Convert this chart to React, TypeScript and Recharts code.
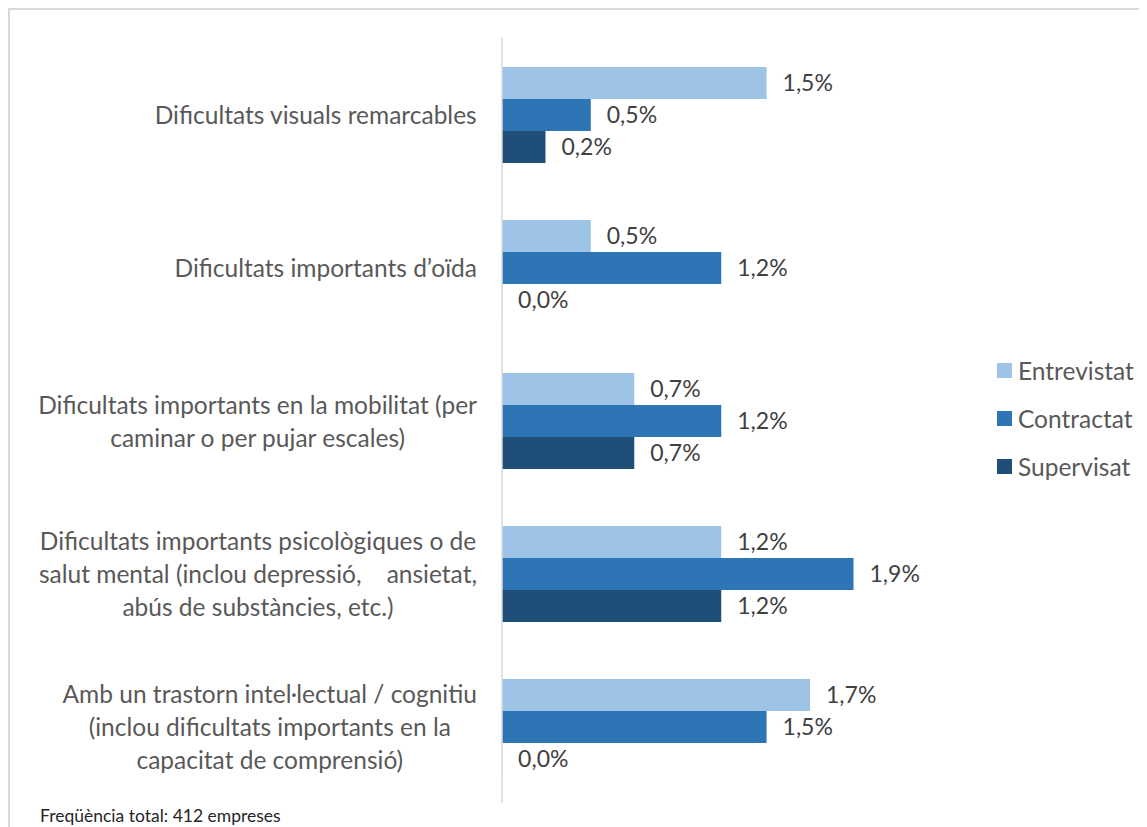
import React from 'react';
import { BarChart, Bar, XAxis, YAxis, LabelList } from 'recharts';

const categories = [
  'Dificultats visuals remarcables',
  'Dificultats importants d\u2019oïda',
  'Dificultats importants en la mobilitat (per\ncaminar o per pujar escales)',
  'Dificultats importants psicològiques o de\nsalut mental (inclou depressió,    ansietat,\nabús de substàncies, etc.)',
  'Amb un trastorn intel·lectual / cognitiu\n(inclou dificultats importants en la\ncapacitat de comprensió)',
];

const seriesNames = ['Entrevistat', 'Contractat', 'Supervisat'];
const seriesColors = ['#9dc3e6', '#2e75b6', '#1f4e79'];

const entrevistat = [1.46, 0.49, 0.73, 1.21, 1.70];
const contractat = [0.49, 1.21, 1.21, 1.94, 1.46];
const supervisat = [0.24, 0.0, 0.73, 1.21, 0.0];

const chartData = categories.map((name, i) => ({
  name,
  s0: entrevistat[i],
  s1: contractat[i],
  s2: supervisat[i],
}));

const FONT = 'Lato, "Open Sans", sans-serif';
const TEXT = '#595959';

let ctx: CanvasRenderingContext2D | null = null;
const measure = (s: string, font: string) => {
  if (!ctx) ctx = document.createElement('canvas').getContext('2d');
  if (!ctx) return s.length * 11;
  ctx.font = font;
  return ctx.measureText(s).width;
};

const CategoryTick = (props: any) => {
  const { x, y, payload } = props;
  const lines: string[] = String(payload.value).split('\n');
  const fs = 24.5;
  const widths = lines.map((l) => measure(l, `${fs}px Lato`));
  const blockW = Math.max(...widths);
  const cx = x - blockW / 2;
  const lineH = 33;
  const y0 = y - ((lines.length - 1) * lineH) / 2;
  return (
    <g>
      {lines.map((l, i) => (
        <text
          key={i}
          x={cx}
          y={y0 + i * lineH}
          textAnchor="middle"
          dominantBaseline="central"
          fontSize={fs}
          fontFamily={FONT}
          fill={TEXT}
          style={{ whiteSpace: 'pre' }}
        >
          {l}
        </text>
      ))}
    </g>
  );
};

const fmt = (v: any) => Number(v).toFixed(1).replace('.', ',') + '%';

export default function App() {
  return (
    <div
      style={{
        position: 'relative',
        width: 1139,
        height: 819,
        borderTop: '2px solid #d9d9d9',
        borderLeft: '2px solid #d9d9d9',
        boxSizing: 'border-box',
        background: '#fff',
        fontFamily: FONT,
      }}
    >
      <div style={{ position: 'absolute', left: -2, top: -2 }}>
        <BarChart
          width={1139}
          height={819}
          data={chartData}
          layout="vertical"
          margin={{ top: 30, right: 192, bottom: 24, left: 0 }}
          barGap={0}
          barSize={32}
        >
          <XAxis type="number" domain={[0, 2.5]} hide />
          <YAxis
            type="category"
            dataKey="name"
            width={494}
            axisLine={{ stroke: '#d9d9d9', strokeWidth: 1.5 }}
            tickLine={false}
            tickSize={0}
            tickMargin={25}
            tick={<CategoryTick />}
            interval={0}
          />
          {seriesNames.map((n, i) => (
            <Bar
              key={n}
              dataKey={`s${i}`}
              name={n}
              fill={seriesColors[i]}
              minPointSize={0.1}
              isAnimationActive={false}
            >
              <LabelList
                dataKey={`s${i}`}
                position="right"
                offset={16}
                formatter={fmt}
                fill="#404040"
                fontSize={23}
                fontFamily={FONT}
              />
            </Bar>
          ))}
        </BarChart>
      </div>
      <div style={{ position: 'absolute', left: 987, top: 336 }}>
        {seriesNames.map((n, i) => (
          <div
            key={n}
            style={{ display: 'flex', alignItems: 'center', height: 48, color: TEXT, fontSize: 24.5 }}
          >
            <span
              style={{ display: 'inline-block', width: 15, height: 15, background: seriesColors[i], marginRight: 6 }}
            />
            {n}
          </div>
        ))}
      </div>
      <div
        style={{ position: 'absolute', left: 30, top: 795, fontSize: 17.5, color: '#262626' }}
      >
        Freqüència total: 412 empreses
      </div>
    </div>
  );
}
